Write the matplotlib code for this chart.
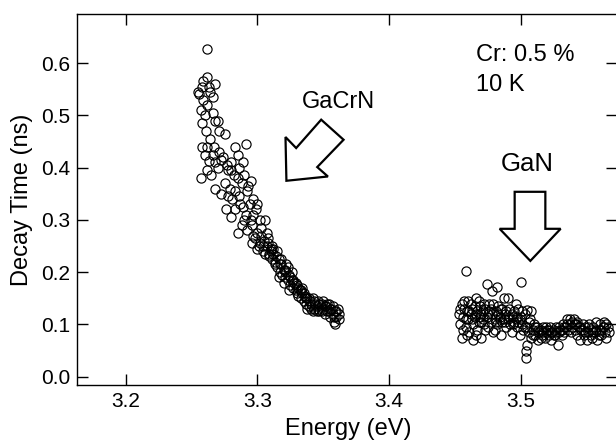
import matplotlib
matplotlib.use("Agg")
import matplotlib.pyplot as plt
from matplotlib.patches import Polygon

plt.rcParams['font.family'] = ['Liberation Sans', 'DejaVu Sans']

# GaCrN band (Energy eV, decay ns)
gacrn_x = [3.262, 3.262, 3.258, 3.268, 3.256, 3.264, 3.259, 3.266, 3.262, 3.257, 3.260, 3.258, 3.268, 3.271, 3.275,
           3.262, 3.260, 3.266, 3.263, 3.268, 3.272, 3.257, 3.262, 3.265, 3.270, 3.277, 3.280, 3.283, 3.291, 3.285, 3.280,
           3.268, 3.272, 3.275, 3.278, 3.281, 3.285, 3.288, 3.290, 3.292, 3.287, 3.283, 3.276, 3.280, 3.290, 3.294, 3.297,
           3.299, 3.302, 3.296, 3.292, 3.288, 3.285, 3.300, 3.303, 3.306, 3.298, 3.305, 3.296, 3.301, 3.308, 3.310,
           3.300, 3.302, 3.304, 3.306, 3.307, 3.309, 3.310, 3.311, 3.312, 3.313, 3.314, 3.315, 3.316, 3.317, 3.318, 3.319,
           3.320, 3.321, 3.322, 3.323, 3.324, 3.325, 3.326, 3.327, 3.328, 3.329, 3.330, 3.331, 3.332, 3.333, 3.334, 3.335,
           3.336, 3.337, 3.338, 3.339, 3.340, 3.341, 3.342, 3.343, 3.344, 3.345, 3.346, 3.347, 3.348, 3.349, 3.350, 3.351,
           3.352, 3.353, 3.354, 3.355, 3.356, 3.357, 3.358, 3.359, 3.360, 3.361, 3.359, 3.362,
           3.318, 3.322, 3.326, 3.330, 3.334, 3.338, 3.342, 3.346, 3.350, 3.354, 3.308, 3.312, 3.316, 3.320, 3.324,
           3.255, 3.259, 3.263, 3.266, 3.270, 3.261, 3.264, 3.258, 3.267, 3.271, 3.274, 3.278, 3.282, 3.286, 3.289,
           3.279, 3.283, 3.286, 3.293, 3.295, 3.297, 3.300, 3.291, 3.289, 3.295, 3.303, 3.307, 3.304, 3.297, 3.309,
           3.313, 3.311, 3.315, 3.317, 3.321, 3.323, 3.325, 3.327, 3.329, 3.331, 3.333, 3.335, 3.337, 3.339, 3.341,
           3.343, 3.345, 3.347, 3.349, 3.351, 3.353, 3.355, 3.357, 3.358, 3.360, 3.362]
gacrn_y = [0.627, 0.573, 0.555, 0.560, 0.540, 0.545, 0.530, 0.535, 0.520, 0.510, 0.500, 0.485, 0.490, 0.470, 0.465,
           0.440, 0.425, 0.425, 0.412, 0.410, 0.415, 0.380, 0.395, 0.385, 0.400, 0.405, 0.395, 0.440, 0.445, 0.425, 0.410,
           0.360, 0.350, 0.370, 0.345, 0.340, 0.380, 0.370, 0.385, 0.355, 0.330, 0.320, 0.320, 0.305, 0.300, 0.330, 0.340,
           0.320, 0.300, 0.290, 0.280, 0.290, 0.275, 0.275, 0.285, 0.300, 0.265, 0.260, 0.255, 0.250, 0.255, 0.245,
           0.245, 0.255, 0.240, 0.235, 0.250, 0.230, 0.240, 0.225, 0.235, 0.220, 0.230, 0.210, 0.225, 0.200, 0.215, 0.195,
           0.205, 0.190, 0.200, 0.185, 0.195, 0.175, 0.185, 0.170, 0.180, 0.165, 0.175, 0.155, 0.165, 0.150, 0.160, 0.145,
           0.155, 0.140, 0.150, 0.135, 0.145, 0.140, 0.150, 0.130, 0.140, 0.135, 0.145, 0.125, 0.135, 0.140, 0.130, 0.120,
           0.135, 0.125, 0.140, 0.115, 0.130, 0.120, 0.105, 0.125, 0.115, 0.130, 0.100, 0.120,
           0.225, 0.215, 0.200, 0.160, 0.170, 0.130, 0.125, 0.130, 0.145, 0.125, 0.265, 0.245, 0.190, 0.180, 0.165,
           0.545, 0.565, 0.555, 0.505, 0.490, 0.470, 0.455, 0.440, 0.440, 0.430, 0.420, 0.395, 0.385, 0.400, 0.410,
           0.360, 0.355, 0.345, 0.365, 0.375, 0.310, 0.330, 0.310, 0.325, 0.300, 0.270, 0.275, 0.250, 0.270, 0.235,
           0.215, 0.250, 0.240, 0.215, 0.205, 0.210, 0.190, 0.185, 0.180, 0.170, 0.165, 0.160, 0.150, 0.150, 0.130,
           0.145, 0.125, 0.140, 0.125, 0.135, 0.140, 0.130, 0.135, 0.115, 0.125, 0.110]

# GaN band
gan_x = [3.453, 3.454, 3.455, 3.455, 3.456, 3.457, 3.458, 3.458, 3.459, 3.460, 3.460, 3.461, 3.462, 3.463, 3.464,
         3.464, 3.465, 3.466, 3.467, 3.467, 3.468, 3.469, 3.470, 3.470, 3.471, 3.472, 3.473, 3.474, 3.474, 3.475,
         3.476, 3.477, 3.478, 3.478, 3.479, 3.480, 3.481, 3.482, 3.482, 3.483, 3.484, 3.485, 3.486, 3.487, 3.488,
         3.489, 3.490, 3.491, 3.492, 3.493, 3.494, 3.495, 3.496, 3.497, 3.498, 3.499, 3.500, 3.500, 3.501, 3.502,
         3.503, 3.504, 3.504, 3.505, 3.505, 3.506, 3.507, 3.508, 3.508, 3.509, 3.510, 3.511, 3.512, 3.513, 3.514,
         3.515, 3.516, 3.517, 3.518, 3.519, 3.520, 3.521, 3.522, 3.523, 3.524, 3.525, 3.526, 3.527, 3.528, 3.529,
         3.530, 3.531, 3.532, 3.533, 3.534, 3.535, 3.536, 3.537, 3.538, 3.539, 3.540, 3.541, 3.542, 3.543, 3.544,
         3.545, 3.546, 3.547, 3.548, 3.549, 3.550, 3.551, 3.552, 3.553, 3.554, 3.555, 3.556, 3.557, 3.558, 3.559,
         3.560, 3.561, 3.562, 3.563, 3.564, 3.565, 3.566,
         3.462, 3.466, 3.472, 3.476, 3.480, 3.486, 3.490, 3.494, 3.498, 3.496, 3.488, 3.470, 3.458, 3.484, 3.505,
         3.454, 3.456, 3.457, 3.459, 3.461, 3.463, 3.465, 3.466, 3.468, 3.469, 3.471, 3.473, 3.475, 3.477, 3.479,
         3.481, 3.483, 3.485, 3.487, 3.489, 3.491, 3.493, 3.495, 3.497, 3.499, 3.501, 3.503, 3.506, 3.509, 3.511,
         3.513, 3.515, 3.517, 3.519, 3.521, 3.523, 3.525, 3.527, 3.529, 3.531, 3.533, 3.535, 3.537, 3.539, 3.541,
         3.543, 3.545, 3.547, 3.549, 3.551, 3.553, 3.555, 3.557, 3.559, 3.561, 3.563, 3.565, 3.567]
gan_y = [0.120, 0.100, 0.140, 0.075, 0.115, 0.130, 0.095, 0.203, 0.125, 0.110, 0.145, 0.085, 0.120, 0.130, 0.070,
         0.100, 0.115, 0.150, 0.125, 0.090, 0.105, 0.135, 0.120, 0.075, 0.110, 0.100, 0.130, 0.178, 0.115, 0.095,
         0.140, 0.105, 0.164, 0.120, 0.085, 0.110, 0.125, 0.171, 0.100, 0.135, 0.115, 0.080, 0.105, 0.150, 0.120,
         0.095, 0.110, 0.130, 0.100, 0.085, 0.115, 0.125, 0.140, 0.095, 0.105, 0.080, 0.115, 0.181, 0.100, 0.090,
         0.120, 0.049, 0.036, 0.060, 0.095, 0.085, 0.110, 0.125, 0.075, 0.090, 0.100, 0.080, 0.095, 0.070, 0.085,
         0.090, 0.080, 0.095, 0.075, 0.085, 0.090, 0.080, 0.095, 0.070, 0.085, 0.090, 0.080, 0.095, 0.060, 0.085,
         0.090, 0.080, 0.100, 0.085, 0.095, 0.110, 0.090, 0.100, 0.085, 0.095, 0.110, 0.090, 0.100, 0.080, 0.095,
         0.070, 0.090, 0.100, 0.080, 0.095, 0.070, 0.085, 0.100, 0.090, 0.075, 0.095, 0.085, 0.105, 0.070, 0.090,
         0.100, 0.080, 0.095, 0.105, 0.085, 0.075, 0.095,
         0.140, 0.120, 0.140, 0.125, 0.090, 0.130, 0.150, 0.100, 0.130, 0.110, 0.105, 0.105, 0.110, 0.110, 0.128,
         0.130, 0.090, 0.145, 0.080, 0.125, 0.110, 0.135, 0.080, 0.145, 0.115, 0.125, 0.090, 0.120, 0.130, 0.140,
         0.105, 0.120, 0.130, 0.110, 0.125, 0.115, 0.120, 0.105, 0.115, 0.110, 0.125, 0.095, 0.105, 0.080, 0.095,
         0.090, 0.075, 0.085, 0.095, 0.090, 0.085, 0.080, 0.085, 0.095, 0.090, 0.095, 0.100, 0.110, 0.105, 0.100,
         0.105, 0.095, 0.090, 0.085, 0.095, 0.080, 0.085, 0.090, 0.080, 0.090, 0.095, 0.100, 0.085]

x_ticks = [3.2, 3.3, 3.4, 3.5]
y_ticks = [0.0, 0.1, 0.2, 0.3, 0.4, 0.5, 0.6]

fig = plt.figure(figsize=(6.16, 4.41), dpi=100)
ax = fig.add_axes([77/616, 56.3/441, 540/616, 370.7/441])

ax.plot(gacrn_x + gan_x, gacrn_y + gan_y, ls='none', marker='o', ms=6.6,
        mfc='none', mec='black', mew=0.85)

ax.set_xlim(3.163, 3.573)
ax.set_ylim(-0.0153, 0.694)
ax.set_xticks(x_ticks)
ax.set_xticklabels([f"{v:.1f}" for v in x_ticks])
ax.set_yticks(y_ticks)
ax.set_yticklabels([f"{v:.1f}" for v in y_ticks])
ax.tick_params(direction='in', length=8, width=1.0, labelsize=15, top=True, right=True, pad=5)
for s in ax.spines.values():
    s.set_linewidth(1.0)
ax.spines['right'].set_visible(False)

ax.set_xlabel('Energy (eV)', fontsize=17)
ax.set_ylabel('Decay Time (ns)', fontsize=17)
ax.xaxis.set_label_coords(0.503, -0.089)
ax.yaxis.set_label_coords(-0.0815, 0.5)

# Block arrows
arr1 = [(3.3220, 0.3749), (3.3213, 0.4586), (3.3294, 0.4375), (3.3484, 0.4918),
        (3.3654, 0.4534), (3.3454, 0.4011), (3.3535, 0.3831)]
arr2 = [(3.4953, 0.3538), (3.5186, 0.3538), (3.5186, 0.2830), (3.5302, 0.2830),
        (3.5072, 0.2216), (3.4839, 0.2830), (3.4953, 0.2830)]
for pts in (arr1, arr2):
    ax.add_patch(Polygon(pts, closed=True, facecolor='white', edgecolor='black', lw=1.6, zorder=3))

ax.text(3.3616, 0.5148, 'GaCrN', fontsize=17, ha='center', va='baseline')
ax.text(3.5052, 0.3927, 'GaN', fontsize=18.5, ha='center', va='baseline')
ax.text(3.4657, 0.6034, 'Cr: 0.5 %', fontsize=17, ha='left', va='baseline')
ax.text(3.4657, 0.5460, '10 K', fontsize=17, ha='left', va='baseline')

fig.savefig('out.png', dpi=100)
